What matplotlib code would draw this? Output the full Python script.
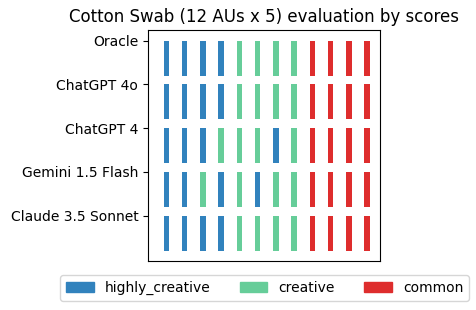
import matplotlib
matplotlib.use("Agg")
import matplotlib.pyplot as plt
from matplotlib.patches import Patch

models = ["Oracle", "ChatGPT 4o", "ChatGPT 4", "Gemini 1.5 Flash", "Claude 3.5 Sonnet"]
scores = [
    ["highly_creative"] * 4 + ["creative"] * 4 + ["common"] * 4,
    ["highly_creative"] * 4 + ["creative"] * 4 + ["common"] * 4,
    ["highly_creative"] * 3 + ["creative"] * 3 + ["highly_creative", "creative"] + ["common"] * 4,
    ["highly_creative", "highly_creative", "creative", "highly_creative", "creative",
     "highly_creative", "creative", "creative"] + ["common"] * 4,
    ["highly_creative"] * 4 + ["creative"] * 4 + ["common"] * 4,
]
categories = ["highly_creative", "creative", "common"]
colors = {"highly_creative": "#3182bd", "creative": "#66cd99", "common": "#de2d2d"}

fig = plt.figure(figsize=(4.76, 3.10), dpi=100)
ax = fig.add_axes([0.311, 0.158, 0.487, 0.745])

for row, labels in enumerate(scores):
    for col, lab in enumerate(labels):
        ax.bar(col, 0.8, bottom=row, width=0.3, color=colors[lab])

ax.set_xlim(-1, 11.7)
ax.set_ylim(5.04, -0.24)
ax.set_xticks([])
ax.set_yticks(range(len(models)))
ax.set_yticklabels(models)
ax.set_title("Cotton Swab (12 AUs x 5) evaluation by scores")

handles = [Patch(color=colors[c], label=c) for c in categories]
fig.legend(handles=handles, loc="center", bbox_to_anchor=(0.556, 0.071),
           ncol=3, columnspacing=2.1)

fig.savefig("out.png", dpi=100)
